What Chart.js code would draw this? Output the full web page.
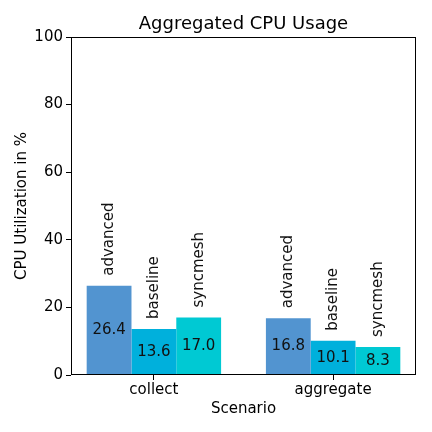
<!DOCTYPE html>
<html><head><meta charset="utf-8">
<script src="https://cdn.jsdelivr.net/npm/chart.js@4/dist/chart.umd.min.js"></script>
<style>html,body{margin:0;padding:0;background:#fff}#wrap{width:432px;height:432px}</style>
</head><body><div id="wrap"><canvas id="c" width="432" height="432"></canvas></div>
<script>
const categories = ['collect', 'aggregate'];
const seriesNames = ['advanced', 'baseline', 'syncmesh'];
const advanced = [26.4, 16.8];
const baseline = [13.6, 10.1];
const syncmesh = [17.0, 8.3];
const yTicks = [0, 20, 40, 60, 80, 100];
const colors = ['#5294d0', '#00b0dc', '#00c9d3'];
const FONT = 'DejaVu Sans';

const seriesValues = [advanced, baseline, syncmesh];
const datasets = seriesNames.map((n, i) => ({
  label: n,
  data: categories.map((c, j) => ({x: j, y: seriesValues[i][j]})),
  backgroundColor: colors[i],
  borderWidth: 0,
  categoryPercentage: 0.75,
  barPercentage: 1.0
}));

const labelsPlugin = {
  id: 'labels',
  afterDatasetsDraw(chart) {
    const ctx = chart.ctx;
    const ca = chart.chartArea;
    ctx.save();
    chart.data.datasets.forEach((ds, i) => {
      const meta = chart.getDatasetMeta(i);
      meta.data.forEach((bar, j) => {
        const v = ds.data[j].y;
        const yMid = (bar.y + bar.base) / 2;
        ctx.fillStyle = '#111';
        ctx.font = '15px "' + FONT + '"';
        ctx.textAlign = 'center';
        ctx.textBaseline = 'middle';
        ctx.fillText(v.toFixed(1), bar.x, yMid);
        ctx.save();
        ctx.translate(bar.x, bar.y - 10);
        ctx.rotate(-Math.PI / 2);
        ctx.textAlign = 'left';
        ctx.textBaseline = 'middle';
        ctx.fillText(ds.label, 0, 0);
        ctx.restore();
      });
    });
    // frame
    ctx.strokeStyle = '#000';
    ctx.lineWidth = 1;
    ctx.strokeRect(ca.left + 0.5, ca.top + 0.5, ca.right - ca.left - 1, ca.bottom - ca.top - 1);
    // title
    ctx.fillStyle = '#000';
    ctx.font = '18px "' + FONT + '"';
    ctx.textAlign = 'center';
    ctx.textBaseline = 'alphabetic';
    ctx.fillText('Aggregated CPU Usage', (ca.left + ca.right) / 2, 29);
    // axis titles
    ctx.font = '15px "' + FONT + '"';
    ctx.fillText('Scenario', (ca.left + ca.right) / 2, 413);
    ctx.save();
    ctx.translate(26, (ca.top + ca.bottom) / 2);
    ctx.rotate(-Math.PI / 2);
    ctx.fillText('CPU Utilization in %', 0, 0);
    ctx.restore();
    ctx.restore();
  }
};

new Chart(document.getElementById('c'), {
  type: 'bar',
  data: { datasets },
  options: {
    responsive: false,
    animation: false,
    devicePixelRatio: 1,
    layout: { padding: { top: 37, right: 16, left: 0, bottom: 0 } },
    plugins: { legend: { display: false }, tooltip: { enabled: false }, title: { display: false } },
    scales: {
      x: {
        type: 'linear',
        min: -0.4625,
        max: 1.4625,
        offset: false,
        afterBuildTicks(scale) { scale.ticks = categories.map((c, j) => ({ value: j })); },
        afterFit(scale) { scale.height = 57; },
        ticks: {
          autoSkip: false,
          maxRotation: 0,
          padding: 1,
          color: '#000',
          font: { family: FONT, size: 15 },
          callback: (v) => categories[v] !== undefined ? categories[v] : ''
        },
        grid: { offset: false, drawOnChartArea: false, drawTicks: true, tickLength: 5, color: '#000', tickColor: '#000' },
        border: { display: false }
      },
      y: {
        min: 0,
        max: 100,
        afterBuildTicks(scale) { scale.ticks = yTicks.map(v => ({ value: v })); },
        afterFit(scale) { scale.width = 71; },
        ticks: {
          padding: 3,
          color: '#000',
          font: { family: FONT, size: 15 }
        },
        grid: { drawOnChartArea: false, drawTicks: true, tickLength: 5, color: '#000', tickColor: '#000' },
        border: { display: false }
      }
    }
  },
  plugins: [labelsPlugin]
});
</script></body></html>
